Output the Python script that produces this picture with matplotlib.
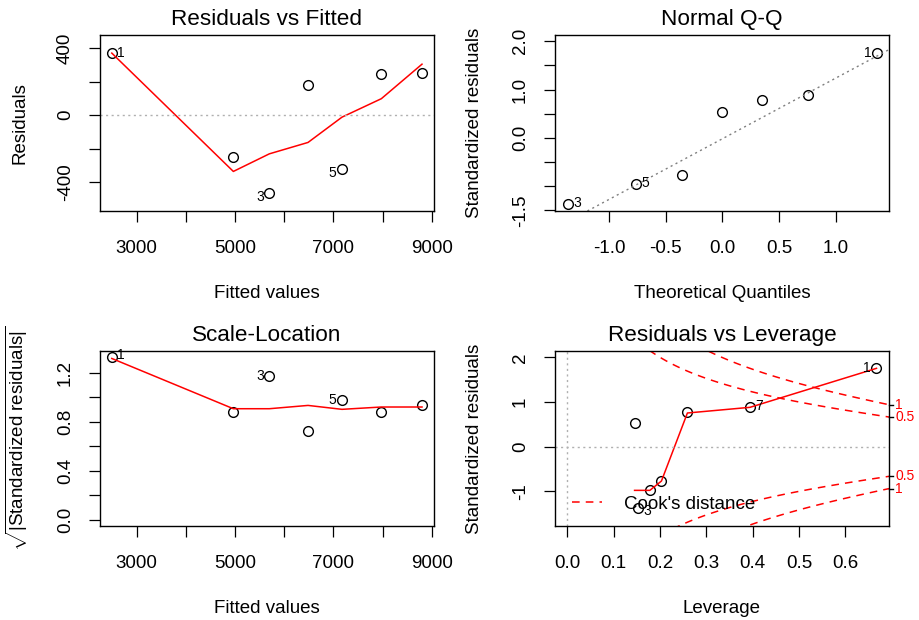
import numpy as np
import matplotlib
matplotlib.use('Agg')
import matplotlib.pyplot as plt
import matplotlib.transforms as mtransforms

plt.rcParams['font.family'] = ['Liberation Sans', 'DejaVu Sans']
plt.rcParams['mathtext.fontset'] = 'custom'
plt.rcParams['mathtext.rm'] = 'Liberation Sans'
plt.rcParams['mathtext.it'] = 'Liberation Sans:italic'

# observations 1..7
obs_ids = ['1', '2', '3', '4', '5', '6', '7']
fitted = [2494, 4966, 5698, 6485, 7176, 7976, 8803]
resid = [370, -251, -466, 177, -324, 243, 251]
std_resid = [1.757, -0.768, -1.376, 0.526, -0.961, 0.775, 0.878]
sqrt_abs_std = [1.325, 0.876, 1.173, 0.725, 0.980, 0.880, 0.937]
leverage = [0.667, 0.203, 0.153, 0.145, 0.178, 0.259, 0.394]

# smoother lines (red)
smooth_rf = [370, -336, -231, -163, -12, 98, 304]
smooth_sl = [1.317, 0.906, 0.906, 0.933, 0.901, 0.920, 0.920]
lev_sorted = [0.145, 0.153, 0.178, 0.203, 0.259, 0.394, 0.667]
smooth_lev = [-0.978, -0.978, -0.978, -0.769, 0.754, 0.881, 1.754]

# Q-Q
theo_q = [-1.364, -0.758, -0.353, 0.0, 0.353, 0.758, 1.364]
qq_sorted = sorted(std_resid)

cook_levels = [0.5, 1.0]
n_params = 2

BASE = 13.5
TITLE = 16.2
SMALL = 10

fig = plt.figure(figsize=(9.2, 6.2), dpi=100)
W, H = 920, 620


def make_ax(x0, y0, x1, y1):
    return fig.add_axes([x0 / W, 1 - y1 / H, (x1 - x0) / W, (y1 - y0) / H])


def style(ax, title, xlabel, ylabel, ylab_x=-0.24):
    ax.set_title(title, fontsize=TITLE, pad=7)
    ax.tick_params(direction='out', length=8, width=0.9, labelsize=BASE, pad=17)
    ax.tick_params(axis='x', pad=19)
    ax.tick_params(axis='y', labelrotation=90)
    for lbl in ax.get_yticklabels():
        lbl.set_ha('center')
        lbl.set_va('center')
    for lbl in ax.get_xticklabels():
        lbl.set_va('center')
    ax.set_xlabel(xlabel, fontsize=BASE)
    ax.set_ylabel(ylabel, fontsize=BASE)
    ax.xaxis.set_label_coords(0.5, -0.47)
    ax.xaxis.label.set_va('center')
    ax.yaxis.set_label_coords(ylab_x, 0.5)
    ax.yaxis.label.set_va('center')
    for sp in ax.spines.values():
        sp.set_linewidth(1.0)


def label_point(ax, x, y, text, side):
    dx = 4 if side == 'right' else -4
    ax.annotate(text, (x, y), xytext=(dx, 0), textcoords='offset points',
                ha='left' if side == 'right' else 'right', va='center',
                fontsize=SMALL, annotation_clip=False)


mk = dict(marker='o', ms=7, mfc='none', mec='black', mew=1.0, ls='none')
dotted = (0, (1.5, 2.5))

# --- Residuals vs Fitted
ax1 = make_ax(100, 35, 434, 211)
ax1.plot(fitted, resid, **mk)
ax1.plot(fitted, smooth_rf, color='red', lw=1.1)
ax1.axhline(0, color='#b0b0b0', lw=1, ls=dotted)
ax1.set_xlim(2254, 9047)
ax1.set_ylim(-572, 478)
ax1.set_xticks([3000, 4000, 5000, 6000, 7000, 8000, 9000],
               ['3000', '', '5000', '', '7000', '', '9000'])
ax1.set_yticks([-400, -200, 0, 200, 400], ['-400', '', '0', '', '400'])
style(ax1, 'Residuals vs Fitted', 'Fitted values', 'Residuals')
label_point(ax1, fitted[0], resid[0], '1', 'right')
label_point(ax1, fitted[2], resid[2] - 20, '3', 'left')
label_point(ax1, fitted[4], resid[4] - 20, '5', 'left')

# --- Normal Q-Q
ax2 = make_ax(555, 35, 889, 211)
ax2.plot(theo_q, qq_sorted, **mk)
q25, q75 = np.quantile(std_resid, [0.25, 0.75])
slope = (q75 - q25) / (2 * 0.6745)
inter = q25 + slope * 0.6745
ax2.axline((0, inter), slope=slope, color='#7f7f7f', lw=1, ls=dotted)
ax2.set_xlim(-1.476, 1.471)
ax2.set_ylim(-1.511, 2.127)
ax2.set_xticks([-1.0, -0.5, 0.0, 0.5, 1.0], ['-1.0', '-0.5', '0.0', '0.5', '1.0'])
ax2.set_yticks([-1.5, -1.0, -0.5, 0.0, 0.5, 1.0, 1.5, 2.0],
               ['-1.5', '', '', '0.0', '', '1.0', '', '2.0'])
style(ax2, 'Normal Q-Q', 'Theoretical Quantiles', 'Standardized residuals')
label_point(ax2, theo_q[0], qq_sorted[0] + 0.04, '3', 'right')
label_point(ax2, theo_q[1], qq_sorted[1] + 0.03, '5', 'right')
label_point(ax2, theo_q[6], qq_sorted[6], '1', 'left')

# --- Scale-Location
ax3 = make_ax(100, 351, 434, 526)
ax3.plot(fitted, sqrt_abs_std, **mk)
ax3.plot(fitted, smooth_sl, color='red', lw=1.1)
ax3.set_xlim(2254, 9047)
ax3.set_ylim(-0.053, 1.378)
ax3.set_xticks([3000, 4000, 5000, 6000, 7000, 8000, 9000],
               ['3000', '', '5000', '', '7000', '', '9000'])
ax3.set_yticks([0.0, 0.2, 0.4, 0.6, 0.8, 1.0, 1.2],
               ['0.0', '', '0.4', '', '0.8', '', '1.2'])
style(ax3, 'Scale-Location', 'Fitted values',
      r'$\sqrt{|\mathrm{Standardized\ residuals}|}$', ylab_x=-0.25)
label_point(ax3, fitted[0], sqrt_abs_std[0] + 0.02, '1', 'right')
label_point(ax3, fitted[2], sqrt_abs_std[2], '3', 'left')
label_point(ax3, fitted[4], sqrt_abs_std[4], '5', 'left')

# --- Residuals vs Leverage
ax4 = make_ax(555, 351, 889, 526)
ax4.plot(leverage, std_resid, **mk)
ax4.plot(lev_sorted, smooth_lev, color='red', lw=1.1)
ax4.axhline(0, color='#b0b0b0', lw=1, ls=dotted)
ax4.axvline(0, color='#b0b0b0', lw=1, ls=dotted)
xlo, xhi = -0.0267, 0.694
ax4.set_xlim(xlo, xhi)
ax4.set_ylim(-1.776, 2.142)
hh = np.linspace(min(min(leverage), max(leverage) / 100), xhi, 101)
trans_r = mtransforms.blended_transform_factory(ax4.transAxes, ax4.transData)
first = True
for cl in cook_levels:
    cv = np.sqrt(cl * n_params * (1 - hh) / hh)
    for sgn in (1, -1):
        ax4.plot(hh, sgn * cv, color='red', lw=1.1, ls=(0, (5, 4)),
                 label="Cook's distance" if first else None)
        first = False
        yv = sgn * cv[-1]
        ax4.plot([1.0, 1.012], [yv, yv], color='black', lw=1, transform=trans_r,
                 clip_on=False)
        ax4.text(1.018, yv, '%g' % cl, color='red', fontsize=SMALL,
                 ha='left', va='center', transform=trans_r, clip_on=False)
ax4.set_xticks([0.0, 0.1, 0.2, 0.3, 0.4, 0.5, 0.6],
               ['0.0', '0.1', '0.2', '0.3', '0.4', '0.5', '0.6'])
ax4.set_yticks([-1, 0, 1, 2], ['-1', '0', '1', '2'])
style(ax4, 'Residuals vs Leverage', 'Leverage', 'Standardized residuals')
label_point(ax4, leverage[0], std_resid[0], '1', 'left')
label_point(ax4, leverage[6], std_resid[6] + 0.03, '7', 'right')
label_point(ax4, leverage[2], std_resid[2] - 0.06, '3', 'right')
ax4.legend(loc='lower left', bbox_to_anchor=(0.05, 0.077), frameon=False,
           fontsize=BASE, handlelength=1.6, handletextpad=1.2, borderpad=0,
           borderaxespad=0)

fig.savefig('out.png', dpi=100, facecolor='white')
